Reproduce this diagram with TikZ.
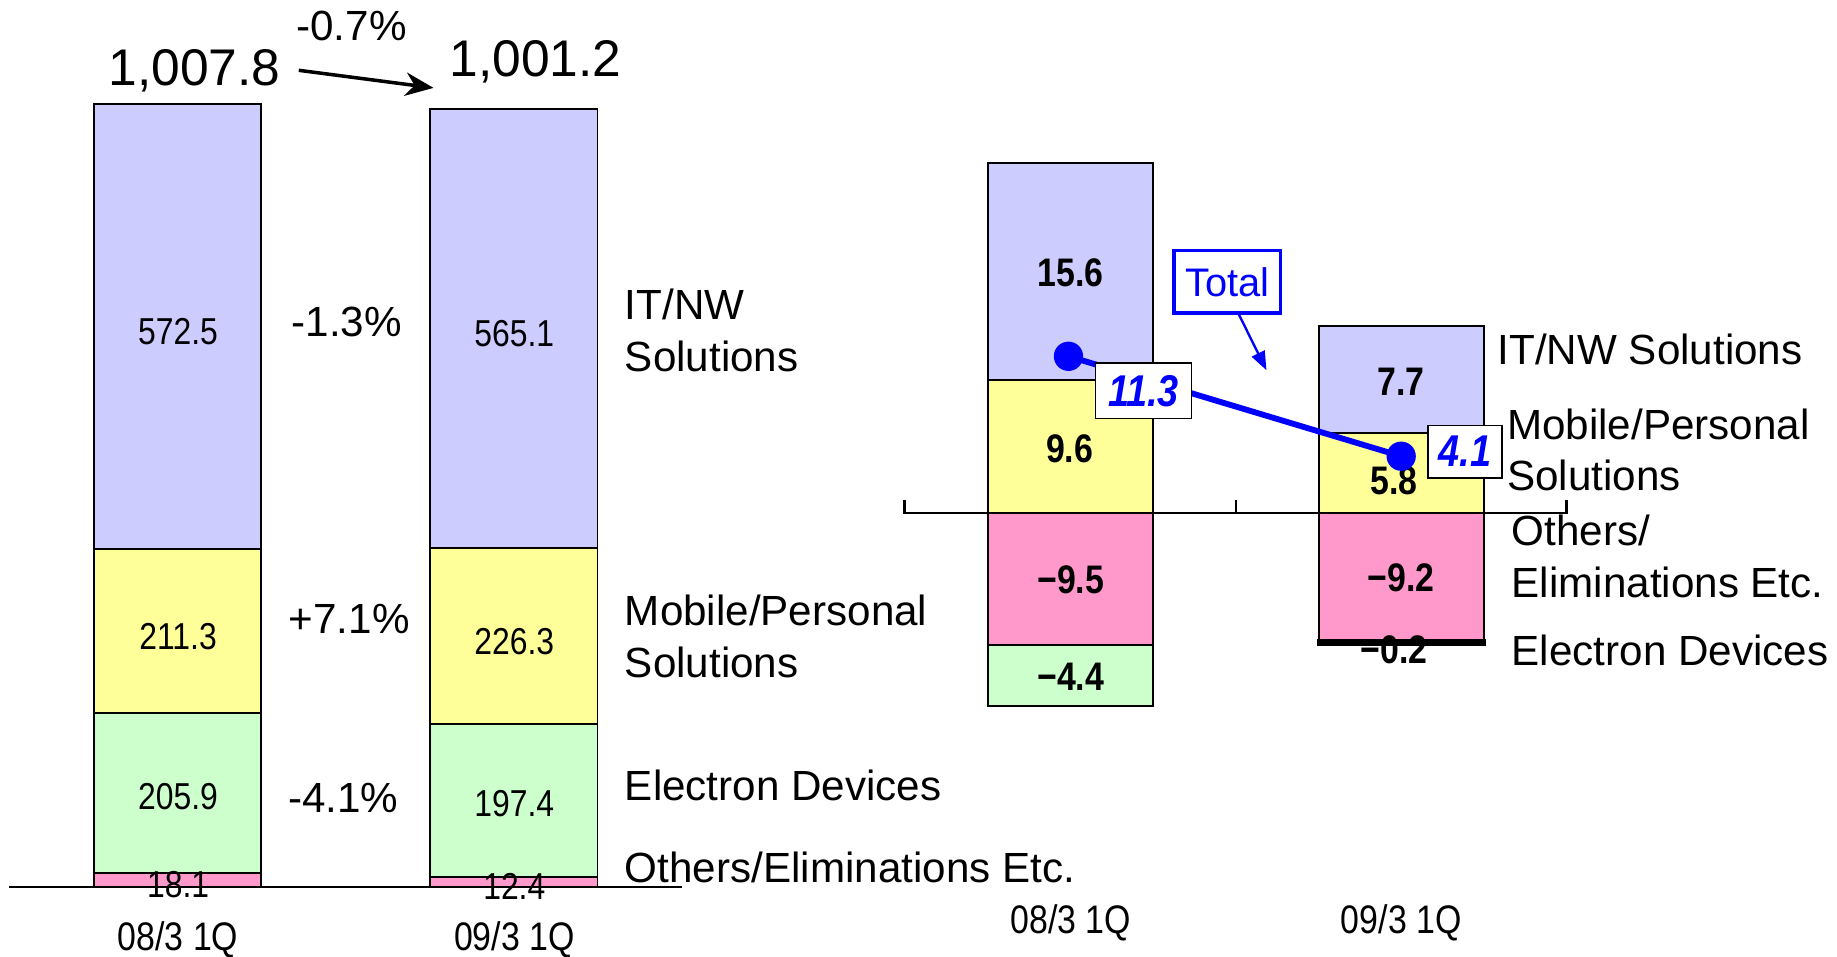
\documentclass[tikz,border=0pt]{standalone}
\usepackage{fontspec}
\setmainfont{Liberation Sans}
\newfontfamily\narrowfont[FakeStretch=0.85]{Liberation Sans}
\usetikzlibrary{arrows.meta}

\definecolor{itnw}{HTML}{CCCCFF}
\definecolor{mobile}{HTML}{FFFF99}
\definecolor{edev}{HTML}{CCFFCC}
\definecolor{others}{HTML}{FF99CC}
\definecolor{totalblue}{HTML}{0000FF}

\begin{document}
\begin{tikzpicture}[x=0.5pt,y=-0.5pt,
  seg/.style={draw=black,line width=0.8pt},
  barval/.style={font=\narrowfont\fontsize{16}{19}\selectfont,inner sep=0},
  opval/.style={font=\narrowfont\bfseries\fontsize{17}{20}\selectfont,inner sep=0},
  pct/.style={font=\fontsize{18}{22}\selectfont,inner sep=0},
  bignum/.style={font=\fontsize{22}{26}\selectfont,inner sep=0},
  catlabel/.style={font=\fontsize{18}{22}\selectfont,inner sep=0,anchor=west,align=left},
  periodlabel/.style={font=\narrowfont\fontsize{17}{20}\selectfont,inner sep=0},
  baseaxis/.style={line width=1pt},
  valbox/.style={draw=black,fill=white,line width=0.6pt,inner sep=0,
    font=\narrowfont\bfseries\itshape\fontsize{19}{22}\selectfont,text=totalblue},
  totline/.style={draw=totalblue,line width=2.5pt},
  totdot/.style={circle,fill=totalblue,minimum size=12.5pt,inner sep=0},
  bigarrow/.style={line width=1.5pt,-{Stealth[length=12pt,width=10pt]}},
  callout/.style={draw=totalblue,line width=1pt,-{Triangle[length=8pt,width=6pt]}},
]
\useasboundingbox (0,0) rectangle (1568,816);

% ---------------- Net sales (left chart) ----------------
% 08/3 1Q
\draw[seg,fill=itnw]   (80,88.8)  rectangle (223,468.4);
\draw[seg,fill=mobile] (80,468.4) rectangle (223,608.5);
\draw[seg,fill=edev]   (80,608.5) rectangle (223,745.0);
\draw[seg,fill=others] (80,745.0) rectangle (223,757);
% 09/3 1Q
\draw[seg,fill=itnw]   (367,93.2)  rectangle (510,467.9);
\draw[seg,fill=mobile] (367,467.9) rectangle (510,617.9);
\draw[seg,fill=edev]   (367,617.9) rectangle (510,748.8);
\draw[seg,fill=others] (367,748.8) rectangle (510,757);

\draw[baseaxis] (8,757) -- (582,757);

\node[barval] (s1) at (152,283) {572.5};
\node[barval] (s2) at (152,543) {211.3};
\node[barval] (s3) at (152,680) {205.9};
\node[barval] (s4) at (152,755) {18.1};
\node[barval] (t1) at (439,285) {565.1};
\node[barval] (t2) at (439,548) {226.3};
\node[barval] (t3) at (439,686) {197.4};
\node[barval] (t4) at (439,757) {12.4};

\node[pct] (p1) at (296,275) {-1.3\%};
\node[pct] (p2) at (298,528) {+7.1\%};
\node[pct] (p3) at (293,681) {-4.1\%};

\node[bignum] (v1) at (166,60) {1,007.8};
\node[bignum] (v2) at (457,53) {1,001.2};
\node[pct] (p0) at (300,22) {-0.7\%};
\coordinate (a1) at (255,60);
\coordinate (a2) at (370,75);
\draw[bigarrow] (a1) -- (a2);

\node[catlabel] (l1) at (533,282) {IT/NW\\Solutions};
\node[catlabel] (l2) at (533,543) {Mobile/Personal\\Solutions};
\node[catlabel] (l3) at (533,670) {Electron Devices};
\node[catlabel] (l4) at (533,740) {Others/Eliminations Etc.};

\node[periodlabel] (q1) at (152,802) {08/3 1Q};
\node[periodlabel] (q2) at (439,802) {09/3 1Q};

% ---------------- Operating income (right chart) ----------------
% 08/3 1Q
\draw[seg,fill=itnw]   (843,139.3) rectangle (984,324.2);
\draw[seg,fill=mobile] (843,324.2) rectangle (984,438);
\draw[seg,fill=others] (843,438)   rectangle (984,550.6);
\draw[seg,fill=edev]   (843,550.6) rectangle (984,602.7);
% 09/3 1Q
\draw[seg,fill=itnw]   (1126,278.1) rectangle (1267,369.3);
\draw[seg,fill=mobile] (1126,369.3) rectangle (1267,438);
\draw[seg,fill=others] (1126,438)   rectangle (1267,547.0);
\draw[seg,fill=edev,line width=1.6pt] (1126,547.0) rectangle (1267,549.4);

\draw[baseaxis] (772,427) -- (772,438) -- (1337,438) -- (1337,427);
\draw[baseaxis] (1055,438) -- (1055,427);

\node[opval] (o1) at (914,233) {15.6};
\node[opval] (o2) at (913,383) {9.6};
\node[opval] (o3) at (914,495) {−9.5};
\node[opval] (o4) at (914,578) {−4.4};
\node[opval] (r1) at (1196,326) {7.7};
\node[opval] (r2) at (1190,410) {5.8};
\node[opval] (r3) at (1196,493) {−9.2};
\node[opval] (r4) at (1190,555) {−0.2};

% total operating income
\draw[totline] (912,304.1) -- (1196,389.4);
\node[totdot] (d1) at (912,304.1) {};
\node[totdot] (d2) at (1196,389.4) {};
\node[valbox,minimum width=41pt,minimum height=23.5pt] (b1) at (976,333.5) {11.3};
\node[valbox,minimum width=31.5pt,minimum height=22.5pt] (b2) at (1250.5,385.5) {4.1};

\node[draw=totalblue,line width=1.5pt,fill=white,text=totalblue,inner sep=0,
  minimum width=45.5pt,minimum height=26.5pt,font=\fontsize{17}{20}\selectfont]
  (tot) at (1047.5,240.5) {Total};
\coordinate (tip) at (1081,316);
\draw[callout] ([xshift=5pt]tot.south) -- (tip);

\node[catlabel] (m1) at (1278,298) {IT/NW Solutions};
\node[catlabel] (m2) at (1286,384) {Mobile/Personal\\Solutions};
\node[catlabel] (m3) at (1290,475) {Others/\\Eliminations Etc.};
\node[catlabel] (m4) at (1290,555) {Electron Devices};

\node[periodlabel] (q3) at (914,788) {08/3 1Q};
\node[periodlabel] (q4) at (1196,788) {09/3 1Q};
\end{tikzpicture}
\end{document}
